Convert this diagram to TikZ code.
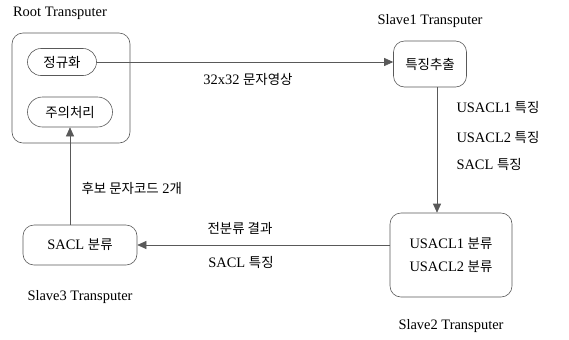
\documentclass[tikz,border=0pt]{standalone}
\usepackage{fontspec}
\setmainfont{Liberation Serif}
\newfontfamily\krfont{Noto Sans CJK KR}
\newcommand{\kr}[1]{{\krfont\fontsize{13.5}{15}\selectfont #1}}
\usetikzlibrary{positioning}
\usetikzlibrary{arrows.meta,shapes.misc}
\tikzset{basic/.style={draw=black!65,line width=0.6pt,align=center,font=\fontsize{14.5}{17}\selectfont}}
\tikzset{unit/.style={basic,rectangle,rounded corners=11bp}}
\tikzset{task/.style={basic,rounded rectangle,inner sep=0pt}}
\tikzset{tag/.style={font=\fontsize{14.5}{17}\selectfont}}
\tikzstyle{arrow}=[draw=black!65, line width=0.6pt, -{Triangle[length=9bp,width=8bp]}]
\begin{document}
\begin{tikzpicture}[x=1bp,y=-1bp]
        \useasboundingbox (0,0) rectangle (569,339);

        % Root
        \node[unit,minimum width=118bp,minimum height=110bp] (root) at (71,88) {};
        \node[tag] (lroot) at (60,13) {Root Transputer};
        \node[task,minimum width=69bp,minimum height=27bp] (norm) at (62,62) {\kr{정규화}};
        \node[task,minimum width=85bp,minimum height=30bp] (attn) at (70,112) {\kr{주의처리}};

        % Slave1
        \node[unit,minimum width=73bp,minimum height=46bp] (feat) at (430,64) {\kr{특징추출}};
        \node[tag,above=10bp of feat] (lfeat) {Slave1 Transputer};

        % Slave2
        \node[unit,minimum width=122bp,minimum height=84bp] (cls) at (451,255)
            {USACL1 \kr{분류}\\[6bp]USACL2 \kr{분류}};
        \node[tag,below=19bp of cls] (lcls) {Slave2 Transputer};

        % Slave3
        \node[unit,minimum width=114bp,minimum height=40bp] (sacl) at (80,245) {SACL \kr{분류}};
        \node[tag,below=22bp of sacl] (lsacl) {Slave3 Transputer};

        % links
            \path[arrow] (norm.east) -- (norm.east -| feat.west);
        \node[tag] (img) at (248,79) {32x32 \kr{문자영상}};
        \coordinate (fdown) at ([xshift=7bp]feat.south);
            \path[arrow] (fdown) -- (fdown |- cls.north);
        \node[tag,anchor=west] (f1) at (453,107) {USACL1 \kr{특징}};
        \node[tag,anchor=west] (f2) at (453,137) {USACL2 \kr{특징}};
        \node[tag,anchor=west] (f3) at (453,164) {SACL \kr{특징}};
            \path[arrow] (sacl.east -| cls.west) -- (sacl.east);
        \node[tag] (pre) at (240,228) {\kr{전분류 결과}};
        \node[tag] (sf) at (241,262) {SACL \kr{특징}};
            \path[arrow] (attn.south |- sacl.north) -- (attn.south);
        \node[tag,anchor=west] (cand) at (78,188) {\kr{후보 문자코드} 2\kr{개}};
    \end{tikzpicture}
\end{document}
